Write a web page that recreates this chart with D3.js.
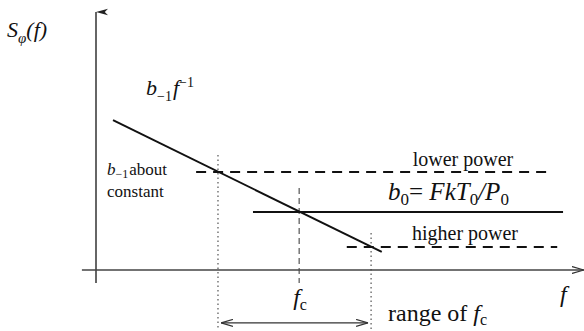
<!DOCTYPE html>
<html>
<head>
<meta charset="utf-8">
<script src="https://cdn.jsdelivr.net/npm/d3@7"></script>
<style>
  html, body { margin: 0; padding: 0; background: #fff; }
  svg { display: block; }
</style>
</head>
<body>
<svg id="chart" width="584" height="331"></svg>
<script>
// Schematic phase-noise spectrum S_phi(f) on log-log axes (arbitrary units 0..100)

// flicker (1/f) asymptote: [f, S] endpoints
const flickerLine = [[3.5, 58.1], [58.8, 7.0]];
// white phase-noise floors b0 for different carrier powers
const floorNames = ["lower power", "b0", "higher power"];
const floorLevels = [38.0, 22.5, 8.9];
const floorStart = [20.6, 32.3, 51.6];
const floorEnd = [93.8, 96.1, 94.9];
// corner frequency and its spread
const cornerNames = ["fc low", "fc", "fc high"];
const cornerFreqs = [25.1, 41.8, 56.6];
// axis extents
const axisX = [-2.9, 100.4];
const axisY = [-5.0, 100];

const serif = "'Liberation Serif', 'DejaVu Serif', 'Times New Roman', Times, serif";
const svg = d3.select("#chart").attr("font-family", serif);
const x = d3.scaleLinear().domain([0, 100]).range([96, 582]);
const y = d3.scaleLinear().domain([0, 100]).range([270, 12]);
const ink = "#111";

// arrowhead markers
const defs = svg.append("defs");
defs.append("marker")
  .attr("id", "arrowUp").attr("viewBox", "0 0 10 16")
  .attr("refX", 5).attr("refY", 0).attr("markerUnits", "userSpaceOnUse")
  .attr("markerWidth", 8).attr("markerHeight", 15).attr("orient", "auto-start-reverse")
  .append("path").attr("d", "M5,0 L9,15 L5,11 L1,15 Z").attr("fill", "#222");

defs.append("marker")
  .attr("id", "openHead").attr("viewBox", "0 0 12 8")
  .attr("refX", 12).attr("refY", 4).attr("markerUnits", "userSpaceOnUse")
  .attr("markerWidth", 12).attr("markerHeight", 8).attr("orient", "auto-start-reverse")
  .append("path").attr("d", "M0,0.5 L12,4 L0,7.5").attr("fill", "none")
  .attr("stroke", "#333").attr("stroke-width", 1.2);

// axes
svg.append("line")
  .attr("x1", x(0)).attr("x2", x(0))
  .attr("y1", y(axisY[0])).attr("y2", y(axisY[1]))
  .attr("stroke", "#333").attr("stroke-width", 1.5)
  .attr("marker-end", "url(#arrowUp)");

svg.append("line")
  .attr("x1", x(axisX[0])).attr("x2", x(axisX[1]))
  .attr("y1", y(0)).attr("y2", y(0))
  .attr("stroke", "#444").attr("stroke-width", 1.6)
  .attr("marker-end", "url(#openHead)");

// vertical guides at the corner frequencies
const guideTop = [44.6, 31.8, 14.3];
const guideBottom = [-23.3, -5.0, -23.3];
const guideDash = ["1.5,3", "6,4", "1.5,3"];
svg.selectAll("line.guide").data(cornerFreqs).join("line")
  .attr("class", "guide")
  .attr("x1", d => x(d)).attr("x2", d => x(d))
  .attr("y1", (d, i) => y(guideTop[i])).attr("y2", (d, i) => y(guideBottom[i]))
  .attr("stroke", "#444").attr("stroke-width", 1.1)
  .attr("stroke-dasharray", (d, i) => guideDash[i]);

// floors
svg.selectAll("line.floor").data(floorLevels).join("line")
  .attr("class", "floor")
  .attr("x1", (d, i) => x(floorStart[i])).attr("x2", (d, i) => x(floorEnd[i]))
  .attr("y1", d => y(d)).attr("y2", d => y(d))
  .attr("stroke", ink).attr("stroke-width", 2)
  .attr("stroke-dasharray", (d, i) => floorNames[i] === "b0" ? null : "10,7");

// flicker asymptote
svg.append("path")
  .attr("d", d3.line().x(d => x(d[0])).y(d => y(d[1]))(flickerLine))
  .attr("stroke", ink).attr("stroke-width", 2).attr("fill", "none");

// range of fc double arrow
svg.append("line")
  .attr("x1", x(cornerFreqs[0]) + 3).attr("x2", x(cornerFreqs[2]) - 3)
  .attr("y1", y(-20.5)).attr("y2", y(-20.5))
  .attr("stroke", "#333").attr("stroke-width", 1.3)
  .attr("marker-start", "url(#openHead)")
  .attr("marker-end", "url(#openHead)");

// text helper: parts = [{t, i (italic), s (size), dy, dx}]
function rich(px, py, size, parts, anchor) {
  const t = svg.append("text").attr("x", px).attr("y", py)
    .attr("font-family", serif).attr("fill", ink)
    .attr("font-size", size).attr("text-anchor", anchor || "start");
  parts.forEach(p => {
    const s = t.append("tspan").text(p.t).attr("font-family", serif);
    if (p.i) s.attr("font-style", "italic");
    if (p.s) s.attr("font-size", p.s);
    if (p.dy) s.attr("dy", p.dy);
    if (p.dx) s.attr("dx", p.dx);
  });
  return t;
}

// y-axis title S_phi(f)
rich(7, 37, 22, [
  {t: "S", i: true},
  {t: "φ", i: true, s: 15, dy: 6},
  {t: "(f)", i: true, dy: -6}
]);

// flicker label b_{-1} f^{-1}
rich(146, 95, 22, [
  {t: "b", i: true},
  {t: "−1", s: 14, dy: 6},
  {t: "f", i: true, dy: -6, dx: 1},
  {t: "−1", s: 14, dy: -8}
]);

// b_{-1} about constant
rich(107, 175, 17, [
  {t: "b", i: true},
  {t: "−1", s: 12, dy: 3},
  {t: "about", dy: -3, dx: 1}
]);
rich(107, 197, 17, [{t: "constant"}]);

// floor labels
rich(463, 166, 20, [{t: "lower power"}], "middle");
rich(465, 240, 20, [{t: "higher power"}], "middle");
rich(388, 200, 25, [
  {t: "b", i: true},
  {t: "0", s: 17, dy: 5},
  {t: "= ", dy: -5},
  {t: "FkT", i: true},
  {t: "0", s: 17, dy: 5},
  {t: "/", i: true, dy: -5},
  {t: "P", i: true},
  {t: "0", s: 17, dy: 5}
]);

// frequency axis labels
rich(x(cornerFreqs[1]) - 6, 305, 24, [
  {t: "f", i: true},
  {t: "c", s: 16, dy: 5}
]);
rich(560, 302, 24, [{t: "f", i: true}]);
rich(388, 321, 24, [
  {t: "range of "},
  {t: "f", i: true},
  {t: "c", s: 16, dy: 4}
]);
</script>
</body>
</html>
